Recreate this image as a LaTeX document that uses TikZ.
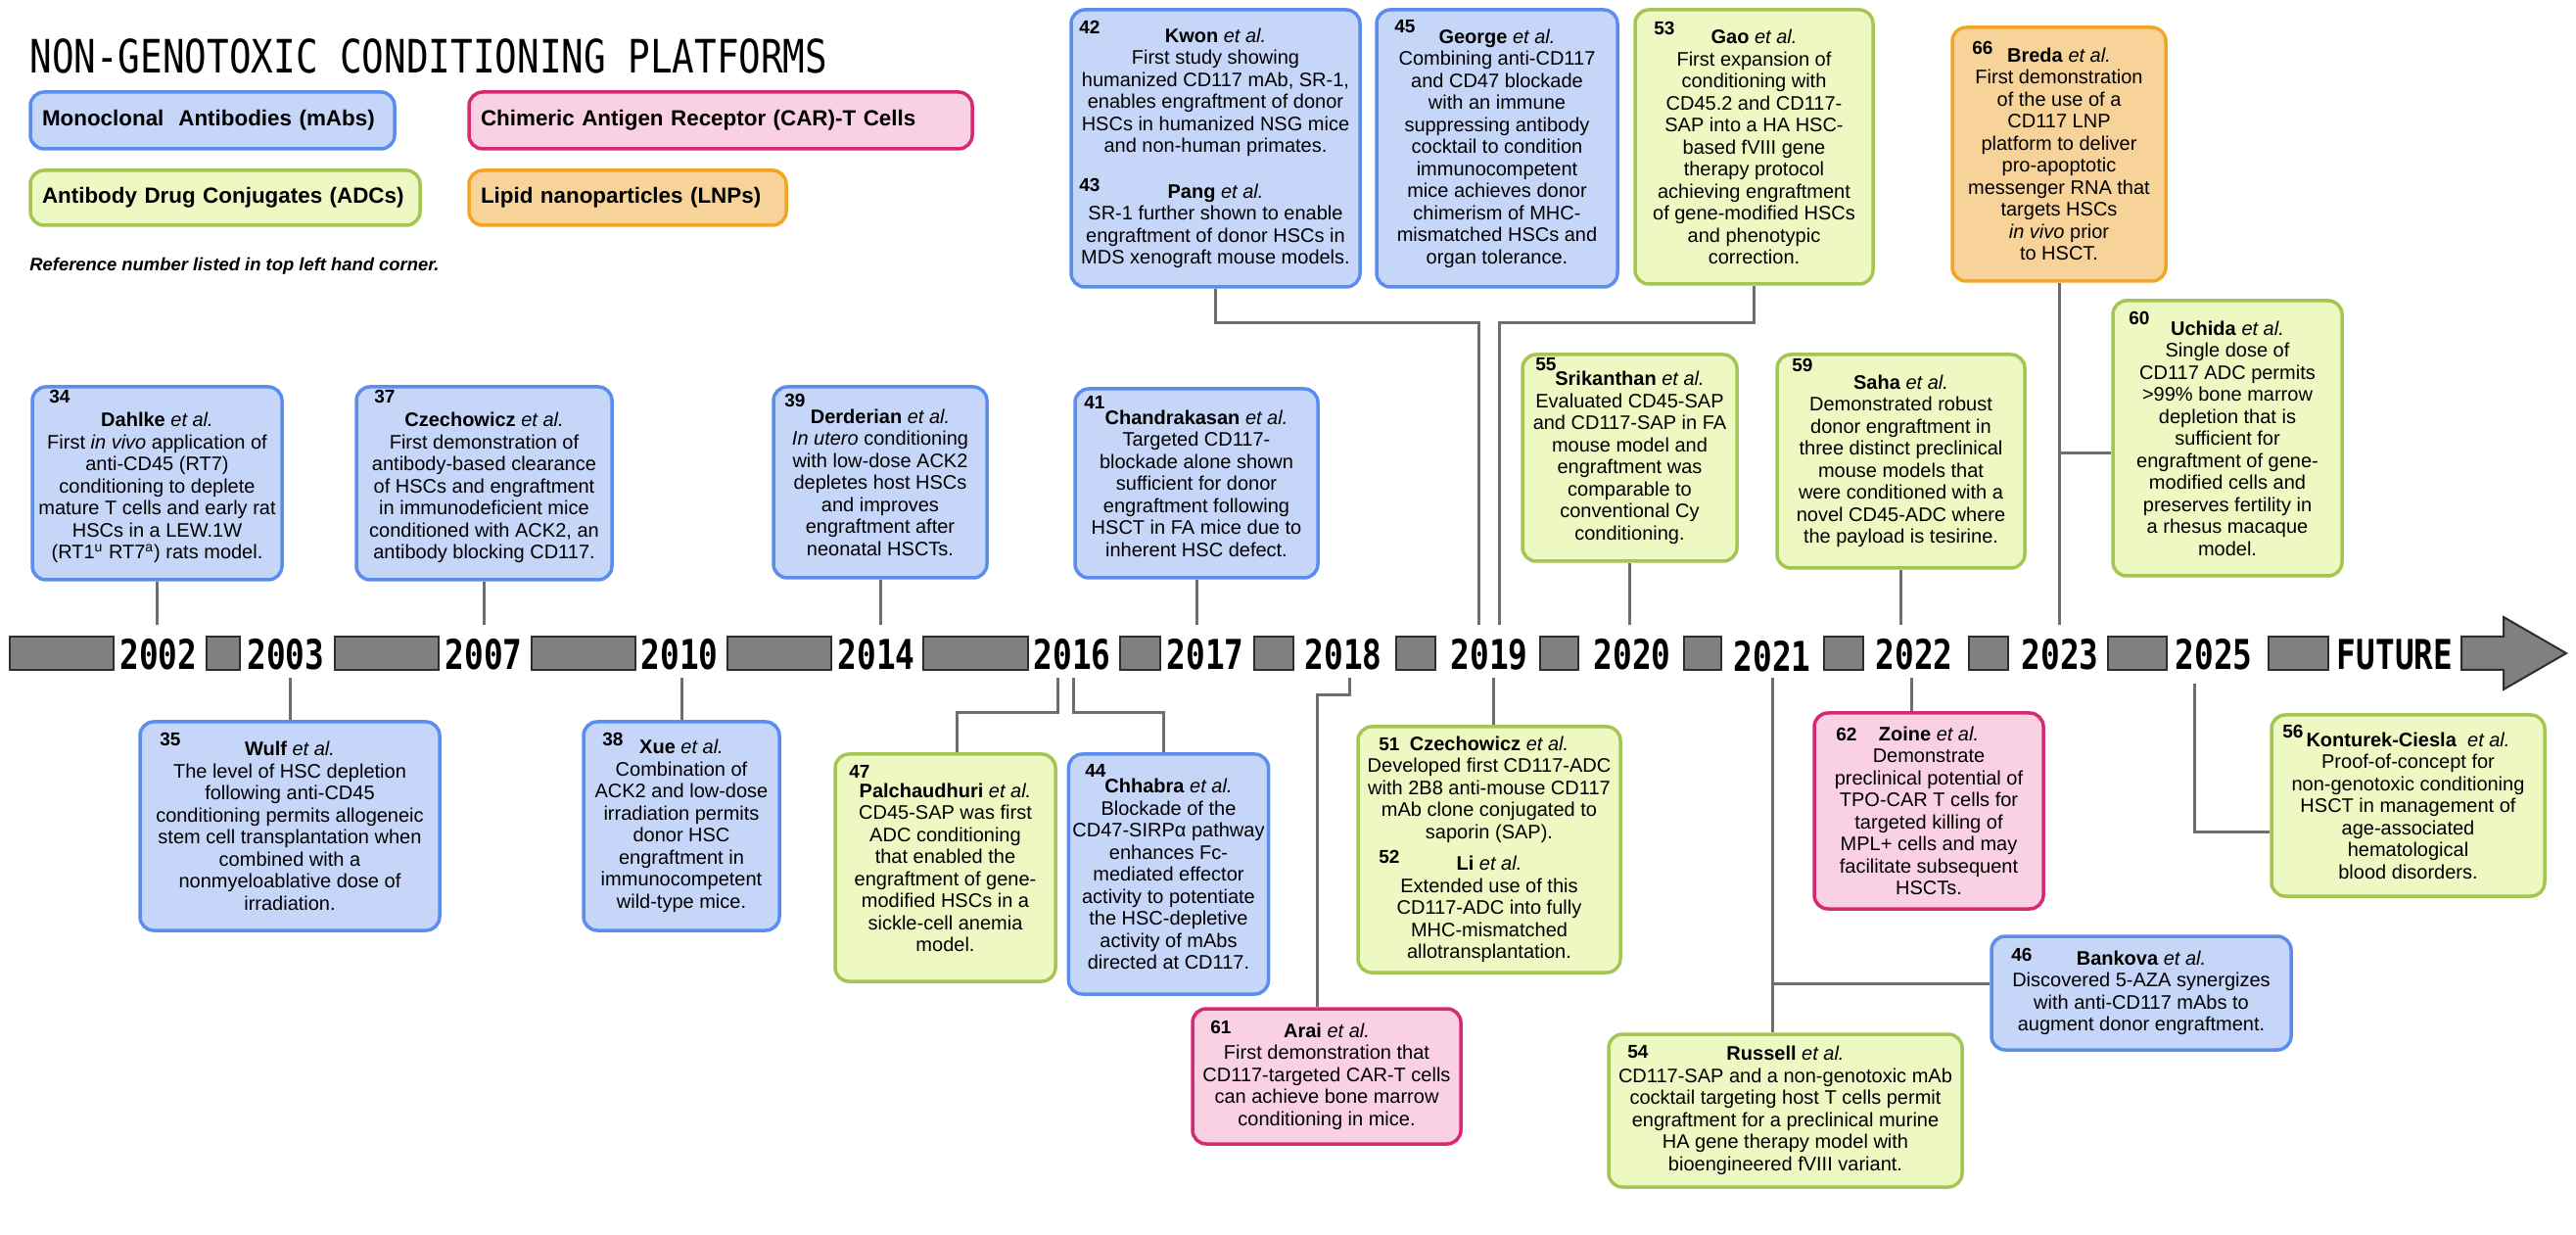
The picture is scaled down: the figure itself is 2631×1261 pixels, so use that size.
\documentclass[tikz,border=0pt]{standalone}
\usepackage{fontspec}
\setmainfont{Liberation Sans}
\newfontfamily\titlefont{DejaVu Sans Mono}[FakeStretch=0.8]
\newfontfamily\yearfont{DejaVu Sans Mono}[FakeStretch=0.78]
\usetikzlibrary{calc}
\definecolor{mabF}{HTML}{C6D6F9}
\definecolor{mabD}{HTML}{5B8DEE}
\definecolor{adcF}{HTML}{EEF8C2}
\definecolor{adcD}{HTML}{A5C552}
\definecolor{carF}{HTML}{FAD1E3}
\definecolor{carD}{HTML}{D62A75}
\definecolor{lnpF}{HTML}{F7D39A}
\definecolor{lnpD}{HTML}{F4A423}
\definecolor{connC}{HTML}{6E6E6E}
\definecolor{barF}{HTML}{808080}
\definecolor{barD}{HTML}{2E2E2E}
\begin{document}
\begin{tikzpicture}[x=0.5pt,y=-0.5pt,
  card/.style={rounded corners=7pt, line width=1.75pt, align=center, inner sep=2pt,
    font=\fontsize{10}{11.25}\selectfont},
  mab/.style={card, draw=mabD, fill=mabF},
  adc/.style={card, draw=adcD, fill=adcF},
  car/.style={card, draw=carD, fill=carF},
  lnp/.style={card, draw=lnpD, fill=lnpF},
  sz/.style 2 args={minimum width=#1*0.5pt, minimum height=#2*0.5pt},
  num/.style={anchor=north west, inner sep=0pt, font=\bfseries\fontsize{9.5}{9.5}\selectfont},
  conn/.style={draw=connC, line width=1.5pt},
  tlrect/.style={fill=barF, draw=barD, line width=1pt, inner sep=0pt},
  year/.style={inner sep=0pt, font=\yearfont\bfseries\fontsize{21}{21}\selectfont},
  legend/.style={rounded corners=7pt, line width=1.75pt, align=left, inner xsep=6pt, inner ysep=2pt,
    font=\bfseries\fontsize{11.2}{13}\selectfont},
]
\fill[white] (0,0) rectangle (2631,1261);
\useasboundingbox (0,0) rectangle (2631,1261);

% Title and legend
\node[anchor=base west, inner sep=0pt, font=\titlefont\fontsize{23.5}{23.5}\selectfont] (title) at (30,75) {NON-GENOTOXIC CONDITIONING PLATFORMS};
\node[legend, draw=mabD, fill=mabF, text width=174pt, minimum height=29pt] (lg1) at (217,123) {\mbox{Monoclonal\ \ Antibodies (mAbs)}};
\node[legend, draw=carD, fill=carF, text width=245pt, minimum height=29pt] (lg2) at (736,123) {\mbox{Chimeric Antigen Receptor (CAR)-T Cells}};
\node[legend, draw=adcD, fill=adcF, text width=187pt, minimum height=28pt] (lg3) at (230,202) {\mbox{Antibody Drug Conjugates (ADCs)}};
\node[legend, draw=lnpD, fill=lnpF, text width=150pt, minimum height=28pt] (lg4) at (641,202) {\mbox{Lipid nanoparticles (LNPs)}};
\node[anchor=west, inner sep=0pt, font=\bfseries\itshape\fontsize{9.2}{10}\selectfont] (refnote) at (30,272) {Reference number listed in top left hand corner.};

% Timeline
\node[tlrect, sz={106}{34}] (r1) at (63,667) {};
\node[tlrect, sz={34}{34}] (r2) at (228,667) {};
\node[tlrect, sz={106}{34}] (r3) at (395,667) {};
\node[tlrect, sz={106}{34}] (r4) at (596,667) {};
\node[tlrect, sz={106}{34}] (r5) at (796,667) {};
\node[tlrect, sz={107}{34}] (r6) at (996.5,667) {};
\node[tlrect, sz={41}{34}] (r7) at (1164.5,667) {};
\node[tlrect, sz={40}{34}] (r8) at (1301,667) {};
\node[tlrect, sz={40}{34}] (r9) at (1446,667) {};
\node[tlrect, sz={39}{34}] (r10) at (1592.5,667) {};
\node[tlrect, sz={38}{34}] (r11) at (1739,667) {};
\node[tlrect, sz={40}{34}] (r12) at (1883,667) {};
\node[tlrect, sz={40}{34}] (r13) at (2031,667) {};
\node[tlrect, sz={60}{34}] (r14) at (2183,667) {};
\node[tlrect, sz={61}{34}] (r15) at (2347.5,667) {};
\draw[tlrect] (2514,650) -- (2557,650) -- (2557,630) -- (2621,667) -- (2557,704) -- (2557,684) -- (2514,684) -- cycle;

\node[year] (y2002) at (162,668) {2002};
\node[year] (y2003) at (292,668) {2003};
\node[year] (y2007) at (494,668) {2007};
\node[year] (y2010) at (694,668) {2010};
\node[year] (y2014) at (895,668) {2014};
\node[year] (y2016) at (1095,668) {2016};
\node[year] (y2017) at (1231,668) {2017};
\node[year] (y2018) at (1372,668) {2018};
\node[year] (y2019) at (1521,668) {2019};
\node[year] (y2020) at (1667,668) {2020};
\node[year] (y2021) at (1810,670) {2021};
\node[year] (y2022) at (1955,668) {2022};
\node[year] (y2023) at (2104,668) {2023};
\node[year] (y2025) at (2261,668) {2025};
\node[year] (yfut) at (2446,668) {FUTURE};

% Upper boxes
\node[mab, sz={255}{197}] (b34) at (160.5,493.5) {\rule{0pt}{12pt}\textbf{Dahlke} \textit{et al.}\\
First \textit{in vivo} application of\\ anti-CD45 (RT7)\\ conditioning to deplete\\ mature T cells and early rat\\ HSCs in a LEW.1W\\ (RT1\textsuperscript{u} RT7\textsuperscript{a}) rats model.};
\node[mab, sz={261}{197}] (b37) at (494.5,493.5) {\rule{0pt}{12pt}\textbf{Czechowicz} \textit{et al.}\\
First demonstration of\\ antibody-based clearance\\ of HSCs and engraftment\\ in immunodeficient mice\\ conditioned with ACK2, an\\ antibody blocking CD117.};
\node[mab, sz={218}{195}] (b39) at (899,492.5) {\textbf{Derderian} \textit{et al.}\\
\textit{In utero} conditioning\\ with low-dose ACK2\\ depletes host HSCs\\ and improves\\ engraftment after\\ neonatal HSCTs.};
\node[mab, sz={248}{193}] (b41) at (1222,493.5) {\textbf{Chandrakasan} \textit{et al.}\\
Targeted CD117-\\ blockade alone shown\\ sufficient for donor\\ engraftment following\\ HSCT in FA mice due to\\ inherent HSC defect.};
\node[mab, sz={295}{283}] (b42) at (1241.5,151.5) {\textbf{Kwon} \textit{et al.}\\
First study showing\\ humanized CD117 mAb, SR-1,\\ enables engraftment of donor\\ HSCs in humanized NSG mice\\ and non-human primates.\\[12pt]
\textbf{Pang} \textit{et al.}\\
SR-1 further shown to enable\\ engraftment of donor HSCs in\\ MDS xenograft mouse models.};
\node[mab, sz={246}{283}] (b45) at (1529,151.5) {\textbf{George} \textit{et al.}\\
Combining anti-CD117\\ and CD47 blockade\\ with an immune\\ suppressing antibody\\ cocktail to condition\\ immunocompetent\\ mice achieves donor\\ chimerism of MHC-\\ mismatched HSCs and\\ organ tolerance.};
\node[adc, sz={243}{280}] (b53) at (1791.5,150) {\textbf{Gao} \textit{et al.}\\
First expansion of\\ conditioning with\\ CD45.2 and CD117-\\ SAP into a HA HSC-\\ based fVIII gene\\ therapy protocol\\ achieving engraftment\\ of gene-modified HSCs\\ and phenotypic\\ correction.};
\node[lnp, sz={218}{259}] (b66) at (2103,157.5) {\textbf{Breda} \textit{et al.}\\
First demonstration\\ of the use of a\\ CD117 LNP\\ platform to deliver\\ pro-apoptotic\\ messenger RNA that\\ targets HSCs\\ \textit{in vivo} prior\\ to HSCT.};
\node[adc, sz={234}{281}] (b60) at (2275,447.5) {\textbf{Uchida} \textit{et al.}\\
Single dose of\\ CD117 ADC permits\\ >99\% bone marrow\\ depletion that is\\ sufficient for\\ engraftment of gene-\\ modified cells and\\ preserves fertility in\\ a rhesus macaque\\ model.};
\node[adc, sz={219}{211}] (b55) at (1664.5,467.5) {\textbf{Srikanthan} \textit{et al.}\\
Evaluated CD45-SAP\\ and CD117-SAP in FA\\ mouse model and\\ engraftment was\\ comparable to\\ conventional Cy\\ conditioning.};
\node[adc, sz={253}{218}] (b59) at (1941.5,471) {\textbf{Saha} \textit{et al.}\\
Demonstrated robust\\ donor engraftment in\\ three distinct preclinical\\ mouse models that\\ were conditioned with a\\ novel CD45-ADC where\\ the payload is tesirine.};

% Lower boxes
\node[mab, sz={306}{213}] (b35) at (296,843.5) {\textbf{Wulf} \textit{et al.}\\
The level of HSC depletion\\ following anti-CD45\\ conditioning permits allogeneic\\ stem cell transplantation when\\ combined with a\\ nonmyeloablative dose of\\ irradiation.};
\node[mab, sz={200}{213}] (b38) at (696,843.5) {\textbf{Xue} \textit{et al.}\\
Combination of\\ ACK2 and low-dose\\ irradiation permits\\ donor HSC\\ engraftment in\\ immunocompetent\\ wild-type mice.};
\node[adc, sz={225}{232}] (b47) at (965.5,886) {\textbf{Palchaudhuri} \textit{et al.}\\
CD45-SAP was first\\ ADC conditioning\\ that enabled the\\ engraftment of gene-\\ modified HSCs in a\\ sickle-cell anemia\\ model.};
\node[mab, sz={199}{245}] (b44) at (1193.5,892.5) {\textbf{Chhabra} \textit{et al.}\\
Blockade of the\\ CD47-SIRPα pathway\\ enhances Fc-\\ mediated effector\\ activity to potentiate\\ the HSC-depletive\\ activity of mAbs\\ directed at CD117.};
\node[adc, sz={268}{251}] (b51) at (1521,867.5) {\textbf{Czechowicz} \textit{et al.}\\
Developed first CD117-ADC\\ with 2B8 anti-mouse CD117\\ mAb clone conjugated to\\ saporin (SAP).\\[5pt]
\textbf{Li} \textit{et al.}\\
Extended use of this\\ CD117-ADC into fully\\ MHC-mismatched\\ allotransplantation.};
\node[car, sz={274}{138}] (b61) at (1355,1099) {\textbf{Arai} \textit{et al.}\\
First demonstration that\\ CD117-targeted CAR-T cells\\ can achieve bone marrow\\ conditioning in mice.};
\node[car, sz={234}{200}] (b62) at (1970,828) {\textbf{Zoine} \textit{et al.}\\
Demonstrate\\ preclinical potential of\\ TPO-CAR T cells for\\ targeted killing of\\ MPL+ cells and may\\ facilitate subsequent\\ HSCTs.};
\node[adc, sz={361}{156}] (b54) at (1823.5,1134) {\textbf{Russell} \textit{et al.}\\
CD117-SAP and a non-genotoxic mAb\\ cocktail targeting host T cells permit\\ engraftment for a preclinical murine\\ HA gene therapy model with\\ bioengineered fVIII variant.};
\node[mab, sz={306}{116}] (b46) at (2187,1014) {\textbf{Bankova} \textit{et al.}\\
Discovered 5-AZA synergizes\\ with anti-CD117 mAbs to\\ augment donor engraftment.};
\node[adc, sz={279}{185}] (b56) at (2459.5,822.5) {\textbf{Konturek-Ciesla}\ \ \textit{et al.}\\
Proof-of-concept for\\ non-genotoxic conditioning\\ HSCT in management of\\ age-associated\\ hematological\\ blood disorders.};

% Reference numbers
\node[num] (n34) at (50,398) {34};
\node[num] (n37) at (382,398) {37};
\node[num] (n39) at (801,402) {39};
\node[num] (n41) at (1107,404) {41};
\node[num] (n42) at (1102,21) {42};
\node[num] (n43) at (1102,182) {43};
\node[num] (n45) at (1424,20) {45};
\node[num] (n53) at (1689,22) {53};
\node[num] (n66) at (2014,42) {66};
\node[num] (n60) at (2174,318) {60};
\node[num] (n55) at (1568,365) {55};
\node[num] (n59) at (1830,366) {59};
\node[num] (n35) at (163,748) {35};
\node[num] (n38) at (615,748) {38};
\node[num] (n47) at (867,781) {47};
\node[num] (n44) at (1108,780) {44};
\node[num] (n51) at (1408,753) {51};
\node[num] (n52) at (1408,868) {52};
\node[num] (n61) at (1236,1042) {61};
\node[num] (n62) at (1875,743) {62};
\node[num] (n54) at (1662,1067) {54};
\node[num] (n46) at (2054,968) {46};
\node[num] (n56) at (2331,740) {56};

% Connectors
\coordinate (tltop) at (0,638);
\coordinate (tlbot) at (0,692);
\coordinate (c19a) at (1510,638);
\coordinate (c19b) at (1531,638);
\coordinate (c16a) at (1080,692);
\coordinate (c16b) at (1096,692);
\coordinate (c18) at (1378,692);
\coordinate (c19c) at (1525,692);
\coordinate (c21) at (1810,692);
\coordinate (c22) at (1952,692);
\coordinate (c25) at (2241,698);

\draw[conn] (b34.south) -- (b34.south |- tltop);
\draw[conn] (b37.south) -- (b37.south |- tltop);
\draw[conn] (b39.south) -- (b39.south |- tltop);
\draw[conn] (b41.south) -- (b41.south |- tltop);
\draw[conn] (b55.south) -- (b55.south |- tltop);
\draw[conn] (b59.south) -- (b59.south |- tltop);
\draw[conn] (b66.south) -- (b66.south |- tltop);
\draw[conn] ($(b66.south |- b60.west)+(0,15)$) -- ($(b60.west)+(0,15)$);
\draw[conn] (b42.south) -- ++(0,35) -| (c19a);
\draw[conn] (b53.south) -- ++(0,38) -| (c19b);

\draw[conn] (b35.north |- tlbot) -- (b35.north);
\draw[conn] (b38.north |- tlbot) -- (b38.north);
\draw[conn] (c16a) -- ++(0,36) -| ($(b47.north)+(12,0)$);
\draw[conn] (c16b) -- ++(0,36) -| ($(b44.north)+(-5,0)$);
\draw[conn] (c18) -- ++(0,18) -| ($(b61.north)+(-10,0)$);
\draw[conn] (c19c) -- (c19c |- b51.north);
\draw[conn] (c21) -- (c21 |- b54.north);
\draw[conn] ($(c21 |- b46.west)+(0,-10)$) -- ($(b46.west)+(0,-10)$);
\draw[conn] (c22) -- (c22 |- b62.north);
\draw[conn] (c25) |- ($(b56.west)+(0,27)$);
\end{tikzpicture}
\end{document}
